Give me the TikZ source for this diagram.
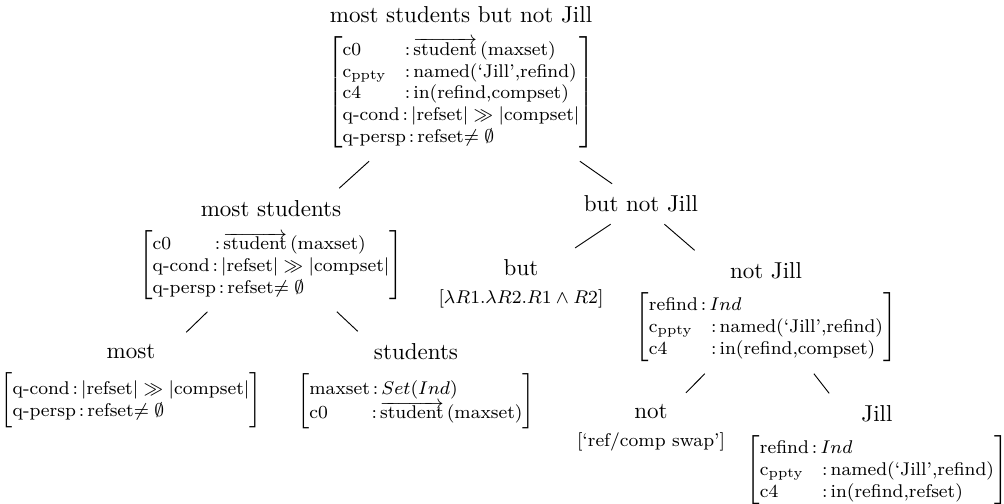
\documentclass[tikz,border=0pt]{standalone}
\usepackage{tikz}

% attribute-value matrix and its feature labels
\newcommand{\avm}[1]{$\left[\mbox{\footnotesize\begin{tabular}{@{}l@{}}#1\end{tabular}}\right]$}
\newcommand{\cf}[1]{\makebox[27pt][l]{#1}:\,}
\newcommand{\qcond}{\makebox[26pt][l]{q-cond}:\,}
\newcommand{\qpersp}{q-persp\,:\,}
\newcommand{\stud}{$\overrightarrow{\mbox{student}}$\,(maxset)}
\newcommand{\cppty}{c$_{\mathrm{ppty}}$}

\begin{document}
\begin{tikzpicture}[
        x=0.4342pt, y=-0.4342pt,
        tnode/.style={align=center, inner sep=5pt},
        branch/.style={draw}
    ]
    \useasboundingbox (0,0) rectangle (1004,503);

    % Nodes
    \node [tnode] (top) at (461,78) {most students but not Jill\\[5pt]
        \avm{\cf{c0}\stud\\
             \cf{\cppty}named(`Jill',refind)\\
             \cf{c4}in(refind,compset)\\
             \qcond$|\mbox{refset}|\gg|\mbox{compset}|$\\
             \qpersp refset$\neq\emptyset$}};

    \node [tnode] (mostStud) at (271,250) {most students\\[5pt]
        \avm{\cf{c0}\stud\\
             \qcond$|\mbox{refset}|\gg|\mbox{compset}|$\\
             \qpersp refset$\neq\emptyset$}};

    \node [tnode] (butNotJill) at (641,204) {but not Jill};

    \node [tnode] (most) at (131,386) {most\\[5pt]
        \avm{\qcond$|\mbox{refset}|\gg|\mbox{compset}|$\\
             \qpersp refset$\neq\emptyset$}};

    \node [tnode] (students) at (416,386) {students\\[5pt]
        \avm{maxset\,:\,$Set(Ind)$\\
             \cf{c0}\stud}};

    \node [tnode] (but) at (521,284) {but\\{\footnotesize$[\lambda R1.\lambda R2.R1\wedge R2]$}};

    \node [tnode] (notJill) at (766,312) {not Jill\\[5pt]
        \avm{refind\,:\,$Ind$\\
             \cf{\cppty}named(`Jill',refind)\\
             \cf{c4}in(refind,compset)}};

    \node [tnode] (not) at (651,428) {not\\{\footnotesize[`ref/comp swap']}};

    \node [tnode] (jill) at (877,455) {Jill\\[5pt]
        \avm{refind\,:\,$Ind$\\
             \cf{\cppty}named(`Jill',refind)\\
             \cf{c4}in(refind,refset)}};

    % Branches
    \path [branch] (top) -- (mostStud);
    \path [branch] (top) -- (butNotJill);
    \path [branch] (mostStud) -- (most);
    \path [branch] (mostStud) -- (students);
    \path [branch] (butNotJill) -- (but);
    \path [branch] (butNotJill) -- (notJill);
    \path [branch] (notJill) -- (not);
    \path [branch] (notJill) -- (jill);

\end{tikzpicture}
\end{document}
